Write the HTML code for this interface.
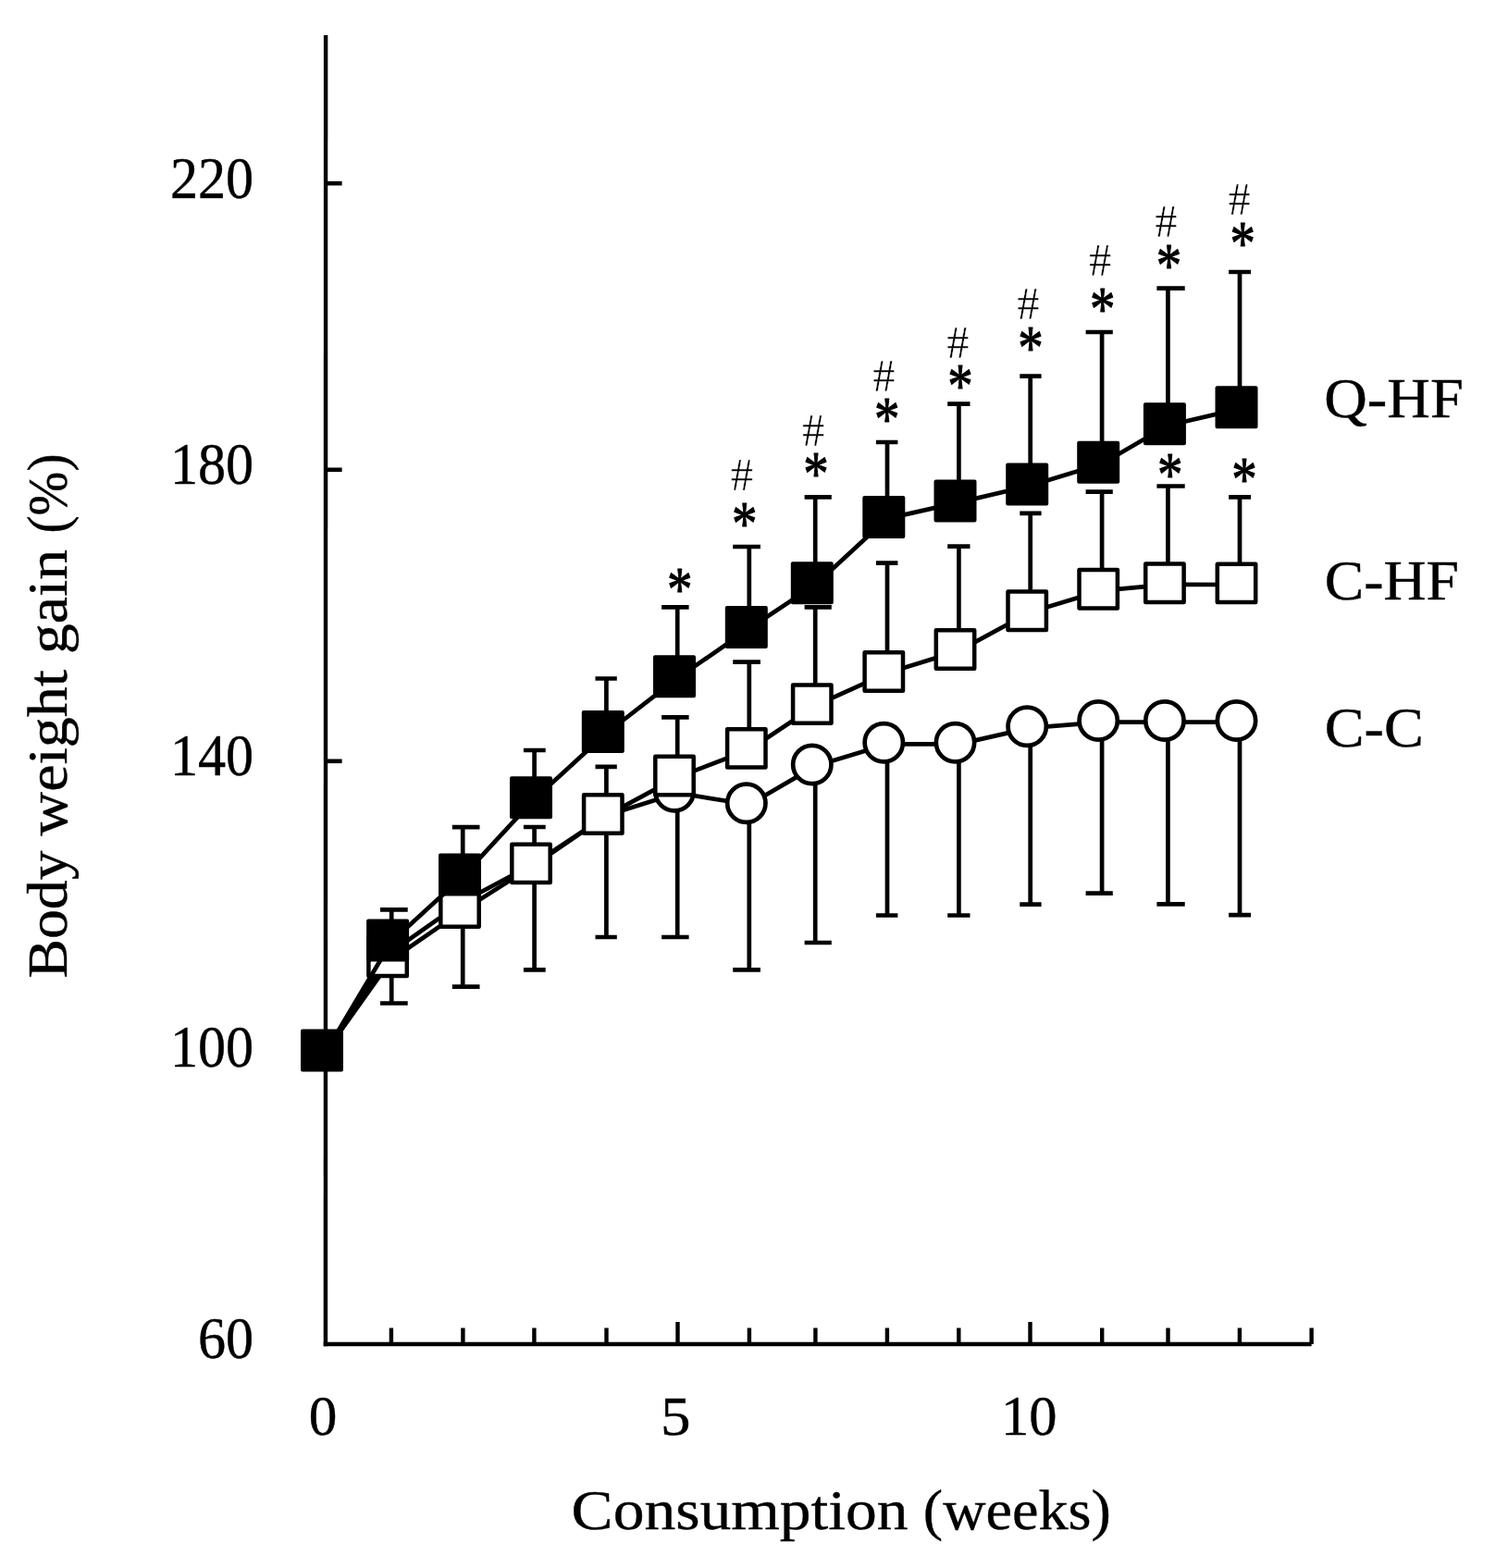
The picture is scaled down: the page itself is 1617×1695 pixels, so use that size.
<!DOCTYPE html>
<html lang="en"><head><meta charset="utf-8"><title>Body weight gain</title>
<style>html,body{margin:0;padding:0;background:#fff}svg{display:block}text{font-family:"Liberation Serif",serif;fill:#000}</style>
</head><body>
<svg width="1617" height="1695" viewBox="0 0 1617 1695">
<rect width="1617" height="1695" fill="#fff"/>
<g stroke="#000" fill="none" stroke-linecap="butt">
<line x1="352.1" y1="38" x2="351.9" y2="1455.3" stroke-width="4.4"/>
<line x1="349.8" y1="1453.1" x2="1417.6" y2="1453.1" stroke-width="4.5"/>
<line x1="352" y1="198.2" x2="369.6" y2="198.2" stroke-width="4.6"/>
<line x1="352" y1="507.8" x2="369.6" y2="507.8" stroke-width="4.6"/>
<line x1="352" y1="822.8" x2="369.6" y2="822.8" stroke-width="4.6"/>
<line x1="422.9" y1="1435.5" x2="422.9" y2="1453" stroke-width="4.4"/>
<line x1="500.4" y1="1435.5" x2="500.4" y2="1453" stroke-width="4.4"/>
<line x1="577.4" y1="1435.5" x2="577.4" y2="1453" stroke-width="4.4"/>
<line x1="655.5" y1="1435.5" x2="655.5" y2="1453" stroke-width="4.4"/>
<line x1="732.5" y1="1429" x2="732.5" y2="1453" stroke-width="4.4"/>
<line x1="809.9" y1="1435.5" x2="809.9" y2="1453" stroke-width="4.4"/>
<line x1="881.4" y1="1435.5" x2="881.4" y2="1453" stroke-width="4.4"/>
<line x1="958.9" y1="1435.5" x2="958.9" y2="1453" stroke-width="4.4"/>
<line x1="1036.3" y1="1435.5" x2="1036.3" y2="1453" stroke-width="4.4"/>
<line x1="1113.5" y1="1429" x2="1113.5" y2="1453" stroke-width="4.4"/>
<line x1="1191.2" y1="1435.5" x2="1191.2" y2="1453" stroke-width="4.4"/>
<line x1="1262.5" y1="1435.5" x2="1262.5" y2="1453" stroke-width="4.4"/>
<line x1="1339.9" y1="1435.5" x2="1339.9" y2="1453" stroke-width="4.4"/>
<line x1="1417.6" y1="1435.5" x2="1417.6" y2="1453" stroke-width="4.4"/>
</g>
<g stroke="#000" stroke-width="4.7" fill="none">
<path d="M423.2 1026V1084.5M411 1084.5H440.7"/>
<path d="M500.2 972.5V1066.7M488.8 1066.7H518.5"/>
<path d="M577.6 933.4V1048.4M565.9 1048.4H589.7"/>
<path d="M655.4 880V1013M643.5 1013H666.8"/>
<path d="M732.2 855.7V1013M715.1 1013H744.6"/>
<path d="M809.8 868.2V1048.4M792.2 1048.4H821.9"/>
<path d="M881.2 826.5V1019M869.6 1019H898.8"/>
<path d="M959 802.8V989.5M946.9 989.5H970.4"/>
<path d="M1036.4 802.8V989.5M1024.2 989.5H1048.5"/>
<path d="M1113.7 785.3V977.6M1102.3 977.6H1125.6"/>
<path d="M1191.1 779V965.7M1173.6 965.7H1202.8"/>
<path d="M1262.4 779V977.3M1250.4 977.3H1280.7"/>
<path d="M1340 779V989.2M1328.1 989.2H1352"/>
<polyline points="352,1137.2 422.9,1029.1 500.4,974.6 577.4,933.5 655.5,881.6 732.5,857.3 809.9,869.8 881.4,828.1 958.9,804.4 1036.3,804.4 1113.5,786.9 1191.2,780.6 1262.5,780.6 1339.9,780.6" stroke-linejoin="round"/>
</g>
<g stroke="#000" stroke-width="4.7" fill="#fff">
<circle cx="729" cy="855.7" r="20.65"/>
<circle cx="806.8" cy="868.2" r="20.65"/>
<circle cx="877.8" cy="826.5" r="20.65"/>
<circle cx="955.3" cy="802.8" r="20.65"/>
<circle cx="1032.5" cy="802.8" r="20.65"/>
<circle cx="1110.2" cy="785.3" r="20.65"/>
<circle cx="1187.2" cy="779" r="20.65"/>
<circle cx="1258.9" cy="779" r="20.65"/>
<circle cx="1336.5" cy="779" r="20.65"/>
</g>
<g stroke="#000" stroke-width="4.7" fill="none">
<path d="M577.6 933.4V894M565.9 894H589.7"/>
<path d="M655.4 880V828.8M643.5 828.8H666.8"/>
<path d="M732.2 838.5V775.4M715.1 775.4H744.6"/>
<path d="M809.8 808.9V715.7M792.2 715.7H821.9"/>
<path d="M881.2 761.1V656.4M869.6 656.4H898.8"/>
<path d="M959 726V608.6M946.9 608.6H970.4"/>
<path d="M1036.4 702V590.7M1024.2 590.7H1048.5"/>
<path d="M1113.7 660.2V554.8M1102.3 554.8H1125.6"/>
<path d="M1191.1 636.7V531.7M1173.6 531.7H1202.8"/>
<path d="M1262.4 630.3V525.5M1250.4 525.5H1280.7"/>
<path d="M1340 630.4V537.3M1328.1 537.3H1352"/>
<polyline points="352,1137.2 422.9,1037.5 500.4,984.1 577.4,935.0 655.5,881.6 732.5,840.1 809.9,810.5 881.4,762.7 958.9,727.6 1036.3,703.6 1113.5,661.8 1191.2,638.3 1262.5,631.9 1339.9,632.0" stroke-linejoin="round"/>
</g>
<g stroke="#000" stroke-width="4.5" fill="#fff" stroke-linejoin="round">
<rect x="398.4" y="1013.7" width="41.4" height="41.4"/>
<rect x="476.3" y="960.3" width="41.4" height="41.4"/>
<rect x="553.3" y="912.7" width="41.4" height="41.4"/>
<rect x="631.1" y="859.3" width="41.4" height="41.4"/>
<rect x="708.3" y="817.8" width="41.4" height="41.4"/>
<rect x="786.1" y="788.2" width="41.4" height="41.4"/>
<rect x="857.1" y="740.4" width="41.4" height="41.4"/>
<rect x="934.6" y="705.3" width="41.4" height="41.4"/>
<rect x="1011.8" y="681.3" width="41.4" height="41.4"/>
<rect x="1089.5" y="639.5" width="41.4" height="41.4"/>
<rect x="1166.5" y="616.0" width="41.4" height="41.4"/>
<rect x="1238.2" y="609.6" width="41.4" height="41.4"/>
<rect x="1315.8" y="609.7" width="41.4" height="41.4"/>
</g>
<g stroke="#000" stroke-width="4.7" fill="none">
<path d="M423.2 1016.6V983.4M411 983.4H440.7"/>
<path d="M500.2 945.6V894.2M488.8 894.2H518.5"/>
<path d="M577.6 862.3V811M565.9 811H589.7"/>
<path d="M655.4 790.9V733.5M643.5 733.5H666.8"/>
<path d="M732.2 731.3V656.4M715.1 656.4H744.6"/>
<path d="M809.8 677.9V591M792.2 591H821.9"/>
<path d="M881.2 630.3V537.4M869.6 537.4H898.8"/>
<path d="M959 559V478M946.9 478H970.4"/>
<path d="M1036.4 541.5V436.6M1024.2 436.6H1048.5"/>
<path d="M1113.7 523.4V406.6M1102.3 406.6H1125.6"/>
<path d="M1191.1 499.7V359M1173.6 359H1202.8"/>
<path d="M1262.4 458.2V311.6M1250.4 311.6H1280.7"/>
<path d="M1340 440.3V294M1328.1 294H1352"/>
<polyline points="352,1137.2 422.9,1018.2 500.4,947.2 577.4,863.9 655.5,792.5 732.5,732.9 809.9,679.5 881.4,631.9 958.9,560.6 1036.3,543.1 1113.5,525.0 1191.2,501.3 1262.5,459.8 1339.9,441.9" stroke-linejoin="round"/>
</g>
<g stroke="#000" stroke-width="4" fill="#000" stroke-linejoin="round">
<rect x="327.0" y="1114.6" width="42" height="42"/>
<rect x="398.1" y="995.6" width="42" height="42"/>
<rect x="476.0" y="924.6" width="42" height="42"/>
<rect x="553.0" y="841.3" width="42" height="42"/>
<rect x="630.8" y="769.9" width="42" height="42"/>
<rect x="708.0" y="710.3" width="42" height="42"/>
<rect x="785.8" y="656.9" width="42" height="42"/>
<rect x="856.8" y="609.3" width="42" height="42"/>
<rect x="934.3" y="538.0" width="42" height="42"/>
<rect x="1011.5" y="520.5" width="42" height="42"/>
<rect x="1089.2" y="502.4" width="42" height="42"/>
<rect x="1166.2" y="478.7" width="42" height="42"/>
<rect x="1237.9" y="437.2" width="42" height="42"/>
<rect x="1315.5" y="419.3" width="42" height="42"/>
</g>
<g font-size="61" text-anchor="middle" stroke="#000" stroke-width="1" stroke-linejoin="round">
<text transform="translate(734.8 640.8) scale(0.9 1.12)" x="0" y="16.6">*</text>
<text transform="translate(804.7 569) scale(0.9 1.12)" x="0" y="16.6">*</text>
<text transform="translate(882 515.6) scale(0.9 1.12)" x="0" y="16.6">*</text>
<text transform="translate(958.7 456.6) scale(0.9 1.12)" x="0" y="16.6">*</text>
<text transform="translate(1037.9 420.7) scale(0.9 1.12)" x="0" y="16.6">*</text>
<text transform="translate(1114 379.3) scale(0.9 1.12)" x="0" y="16.6">*</text>
<text transform="translate(1191.7 337.6) scale(0.9 1.12)" x="0" y="16.6">*</text>
<text transform="translate(1263.4 290) scale(0.9 1.12)" x="0" y="16.6">*</text>
<text transform="translate(1343.2 266.5) scale(0.9 1.12)" x="0" y="16.6">*</text>
<text transform="translate(1264.8 516) scale(0.9 1.12)" x="0" y="16.6">*</text>
<text transform="translate(1345 521.7) scale(0.9 1.12)" x="0" y="16.6">*</text>
</g>
<g text-anchor="middle" stroke="#fff" stroke-width="0.5">
<text transform="translate(801.8 529.8) scale(0.95 1)" font-size="51.2" x="0" y="0">#</text>
<text transform="translate(879.2 482) scale(0.95 1)" font-size="51.2" x="0" y="0">#</text>
<text transform="translate(955.5 422.7) scale(0.95 1)" font-size="51.2" x="0" y="0">#</text>
<text transform="translate(1035.3 386.7) scale(0.95 1)" font-size="51.2" x="0" y="0">#</text>
<text transform="translate(1111.4 345.4) scale(0.95 1)" font-size="51.2" x="0" y="0">#</text>
<text transform="translate(1189.2 298) scale(0.97 1)" font-size="50" x="0" y="0">#</text>
<text transform="translate(1260.4 256.1) scale(0.97 1)" font-size="50" x="0" y="0">#</text>
<text transform="translate(1339.7 232.3) scale(0.97 1)" font-size="50" x="0" y="0">#</text>
</g>
<g font-size="63" text-anchor="end" stroke="#000" stroke-width="0.4">
<text x="274.2" y="214.1" textLength="90.3" lengthAdjust="spacingAndGlyphs">220</text>
<text x="274.2" y="522.9000000000001" textLength="90.3" lengthAdjust="spacingAndGlyphs">180</text>
<text x="274.2" y="838.1" textLength="90.3" lengthAdjust="spacingAndGlyphs">140</text>
<text x="274.2" y="1152.9" textLength="90.3" lengthAdjust="spacingAndGlyphs">100</text>
<text x="274.2" y="1467.7" textLength="60.2" lengthAdjust="spacingAndGlyphs">60</text>
</g>
<g font-size="61.3" text-anchor="middle" stroke="#000" stroke-width="0.4">
<text x="349" y="1551.3">0</text>
<text x="730.2" y="1551.3" font-size="60.2" textLength="32.5" lengthAdjust="spacingAndGlyphs">5</text>
<text x="1112.3" y="1550.9" textLength="60.5" lengthAdjust="spacingAndGlyphs">10</text>
</g>
<g font-size="61.5" stroke="#000" stroke-width="0.4">
<text x="1431.3" y="451" textLength="150.5" lengthAdjust="spacingAndGlyphs">Q-HF</text>
<text x="1431.8" y="647.6" textLength="145" lengthAdjust="spacingAndGlyphs">C-HF</text>
<text x="1431.8" y="807" textLength="107" lengthAdjust="spacingAndGlyphs">C-C</text>
</g>
<text y="1652.8" font-size="62.3" stroke="#000" stroke-width="0.4"><tspan x="617.6" textLength="364" lengthAdjust="spacingAndGlyphs">Consumption</tspan> <tspan x="997.8" textLength="203" lengthAdjust="spacingAndGlyphs">(weeks)</tspan></text>
<text transform="translate(72.4 1056.5) rotate(-90)" font-size="62.3" stroke="#000" stroke-width="0.4"><tspan x="-1" textLength="138" lengthAdjust="spacingAndGlyphs">Body</tspan> <tspan x="153" textLength="179.5" lengthAdjust="spacingAndGlyphs">weight</tspan> <tspan x="349.5" textLength="113" lengthAdjust="spacingAndGlyphs">gain</tspan> <tspan x="480" textLength="86" lengthAdjust="spacingAndGlyphs">(%)</tspan></text>
</svg>
</body></html>
